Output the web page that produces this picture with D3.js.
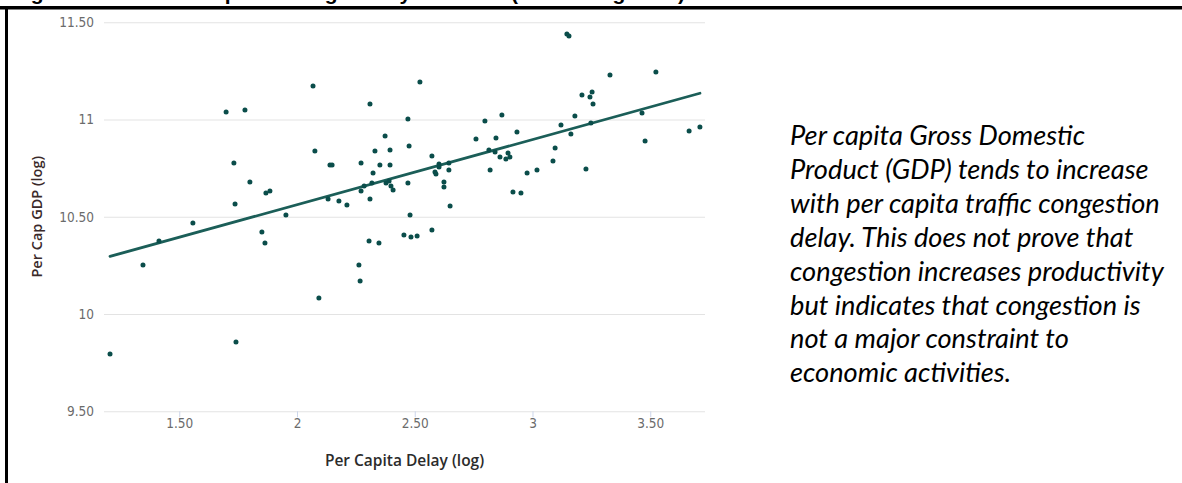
<!DOCTYPE html>
<html><head><meta charset="utf-8">
<script src="https://cdn.jsdelivr.net/npm/d3@7"></script>
<style>html,body{margin:0;padding:0;background:#fff;overflow:hidden}</style>
</head><body><svg id="c" width="1182" height="483"></svg>
<script>
// ---- data ----
const delay = [1.206,1.346,1.414,1.558,1.699,1.779,1.732,1.737,1.741,1.800,1.851,1.864,1.868,1.885,1.953,
  2.068,2.076,2.093,2.132,2.140,2.149,2.178,2.212,2.263,2.268,2.272,2.272,2.285,2.306,2.310,2.310,2.318,2.323,
  2.331,2.348,2.352,2.374,2.378,2.391,2.395,2.395,2.399,2.408,2.454,2.471,2.471,2.476,2.480,2.484,2.510,2.522,
  2.573,2.573,2.586,2.590,2.603,2.603,2.624,2.624,2.645,2.645,2.650,2.760,2.798,2.815,2.820,2.841,2.845,2.862,
  2.870,2.887,2.896,2.904,2.917,2.934,2.951,2.977,3.019,3.087,3.096,3.121,3.146,3.155,3.163,3.180,3.210,3.227,
  3.244,3.248,3.253,3.257,3.329,3.465,3.478,3.524,3.665,3.711];
const gdp = [9.794,10.252,10.375,10.468,11.039,11.049,10.776,10.566,9.856,10.679,10.422,10.365,10.622,10.632,10.509,
  11.172,10.838,10.082,10.591,10.766,10.766,10.581,10.560,10.252,10.170,10.776,10.632,10.658,10.375,11.080,10.591,10.674,10.725,
  10.838,10.365,10.766,10.915,10.674,10.684,10.843,10.766,10.658,10.638,10.406,11.003,10.674,10.864,10.509,10.396,10.401,11.193,
  10.812,10.432,10.730,10.720,10.771,10.756,10.679,10.653,10.776,10.740,10.555,10.900,10.992,10.843,10.740,10.833,10.905,10.807,
  11.023,10.797,10.828,10.807,10.627,10.936,10.622,10.725,10.740,10.787,10.853,10.972,11.440,11.429,10.925,11.018,11.126,10.746,
  11.116,10.982,11.141,11.080,11.229,11.033,10.889,11.244,10.941,10.961];
const trendX = [1.206, 3.711];
const trendY = [10.296, 11.135];
const xTickValues = [1.5, 2, 2.5, 3, 3.5];
const xTickLabels = ["1.50", "2", "2.50", "3", "3.50"];
const yTickValues = [9.5, 10, 10.5, 11, 11.5];
const yTickLabels = ["9.50", "10", "10.50", "11", "11.50"];
const xTitle = "Per Capita Delay (log)";
const yTitle = "Per Cap GDP (log)";
const figTitle = "Figure 6: MSA Per Capita Average Delay and GDP (natural log form)";
const noteLines = [
  "Per capita Gross Domestic",
  "Product (GDP) tends to increase",
  "with per capita traffic congestion",
  "delay. This does not  prove that",
  "congestion increases productivity",
  "but indicates that congestion is",
  "not a major constraint to",
  "economic activities."
];

// ---- layout ----
const svg = d3.select("#c");
const plot = {left: 104, right: 705, top: 22.25, bottom: 411.25};
const x = d3.scaleLinear().domain([1.1805, 3.7325]).range([plot.left, plot.right]);
const y = d3.scaleLinear().domain([9.5, 11.5]).range([plot.bottom, plot.top]);

svg.append("rect").attr("width", 1182).attr("height", 483).attr("fill", "#fff");

// cut-off figure title (only its descenders show, as in the reference) and page frame
svg.append("text").attr("x", 12).attr("y", -0.5)
  .attr("font-family", "Liberation Sans, Arial, sans-serif").attr("font-weight", "bold")
  .attr("font-size", 21).attr("fill", "#000").text(figTitle);
svg.append("rect").attr("x", 0).attr("y", 6).attr("width", 1182).attr("height", 3.5).attr("fill", "#000");
svg.append("rect").attr("x", 5).attr("y", 6).attr("width", 3).attr("height", 477).attr("fill", "#000");

// y axis with gridlines
const yAxis = d3.axisLeft(y).tickValues(yTickValues)
  .tickFormat((d, i) => yTickLabels[i])
  .tickSizeInner(-(plot.right - plot.left)).tickSizeOuter(0).tickPadding(10);
const gy = svg.append("g").attr("transform", `translate(${plot.left},0)`).call(yAxis);
gy.select(".domain").remove();
gy.selectAll(".tick line").attr("stroke", "#e3e3e3").attr("stroke-width", 1.2);
gy.selectAll(".tick text").attr("fill", "#6b6b6b").attr("font-size", 13.5)
  .attr("font-family", "DejaVu Sans Condensed, DejaVu Sans, sans-serif");

// x axis
const xAxis = d3.axisBottom(x).tickValues(xTickValues)
  .tickFormat((d, i) => xTickLabels[i])
  .tickSizeInner(6).tickSizeOuter(0).tickPadding(1);
const gx = svg.append("g").attr("transform", `translate(0,${plot.bottom})`).call(xAxis);
gx.select(".domain").remove();
gx.selectAll(".tick line").attr("stroke", "#ccd6eb");
gx.selectAll(".tick text").attr("fill", "#6b6b6b").attr("font-size", 13.5)
  .attr("font-family", "DejaVu Sans Condensed, DejaVu Sans, sans-serif");

// axis titles
svg.append("text").attr("x", (plot.left + plot.right) / 2).attr("y", 466)
  .attr("text-anchor", "middle").attr("font-family", "Open Sans, sans-serif")
  .attr("font-size", 15.5).attr("font-weight", 600).attr("fill", "#2b2b2b").text(xTitle);
svg.append("text")
  .attr("transform", `translate(42,${(plot.top + plot.bottom) / 2}) rotate(-90)`)
  .attr("text-anchor", "middle").attr("font-family", "Open Sans, sans-serif")
  .attr("font-size", 14.5).attr("font-weight", 600).attr("fill", "#3a2a2a").text(yTitle);

// trend line
svg.append("line")
  .attr("x1", x(trendX[0])).attr("y1", y(trendY[0]))
  .attr("x2", x(trendX[1])).attr("y2", y(trendY[1]))
  .attr("stroke", "#1b5e58").attr("stroke-width", 2.8).attr("stroke-linecap", "round");

// points
svg.append("g").selectAll("circle").data(delay).join("circle")
  .attr("cx", d => x(d)).attr("cy", (d, i) => y(gdp[i]))
  .attr("r", 2.5).attr("fill", "#0a4d4a");

// note text
const note = svg.append("g").attr("font-family", "Lato, sans-serif")
  .attr("font-style", "italic").attr("fill", "#000");
const nt = note.selectAll("text").data(noteLines).join("text")
  .attr("x", 790).attr("y", (d, i) => 145 + i * 33.9).attr("font-size", 24).text(d => d);
let maxW = 0;
nt.each(function () { maxW = Math.max(maxW, this.getComputedTextLength()); });
nt.attr("font-size", 24 * 374 / maxW);
</script>
</body></html>
